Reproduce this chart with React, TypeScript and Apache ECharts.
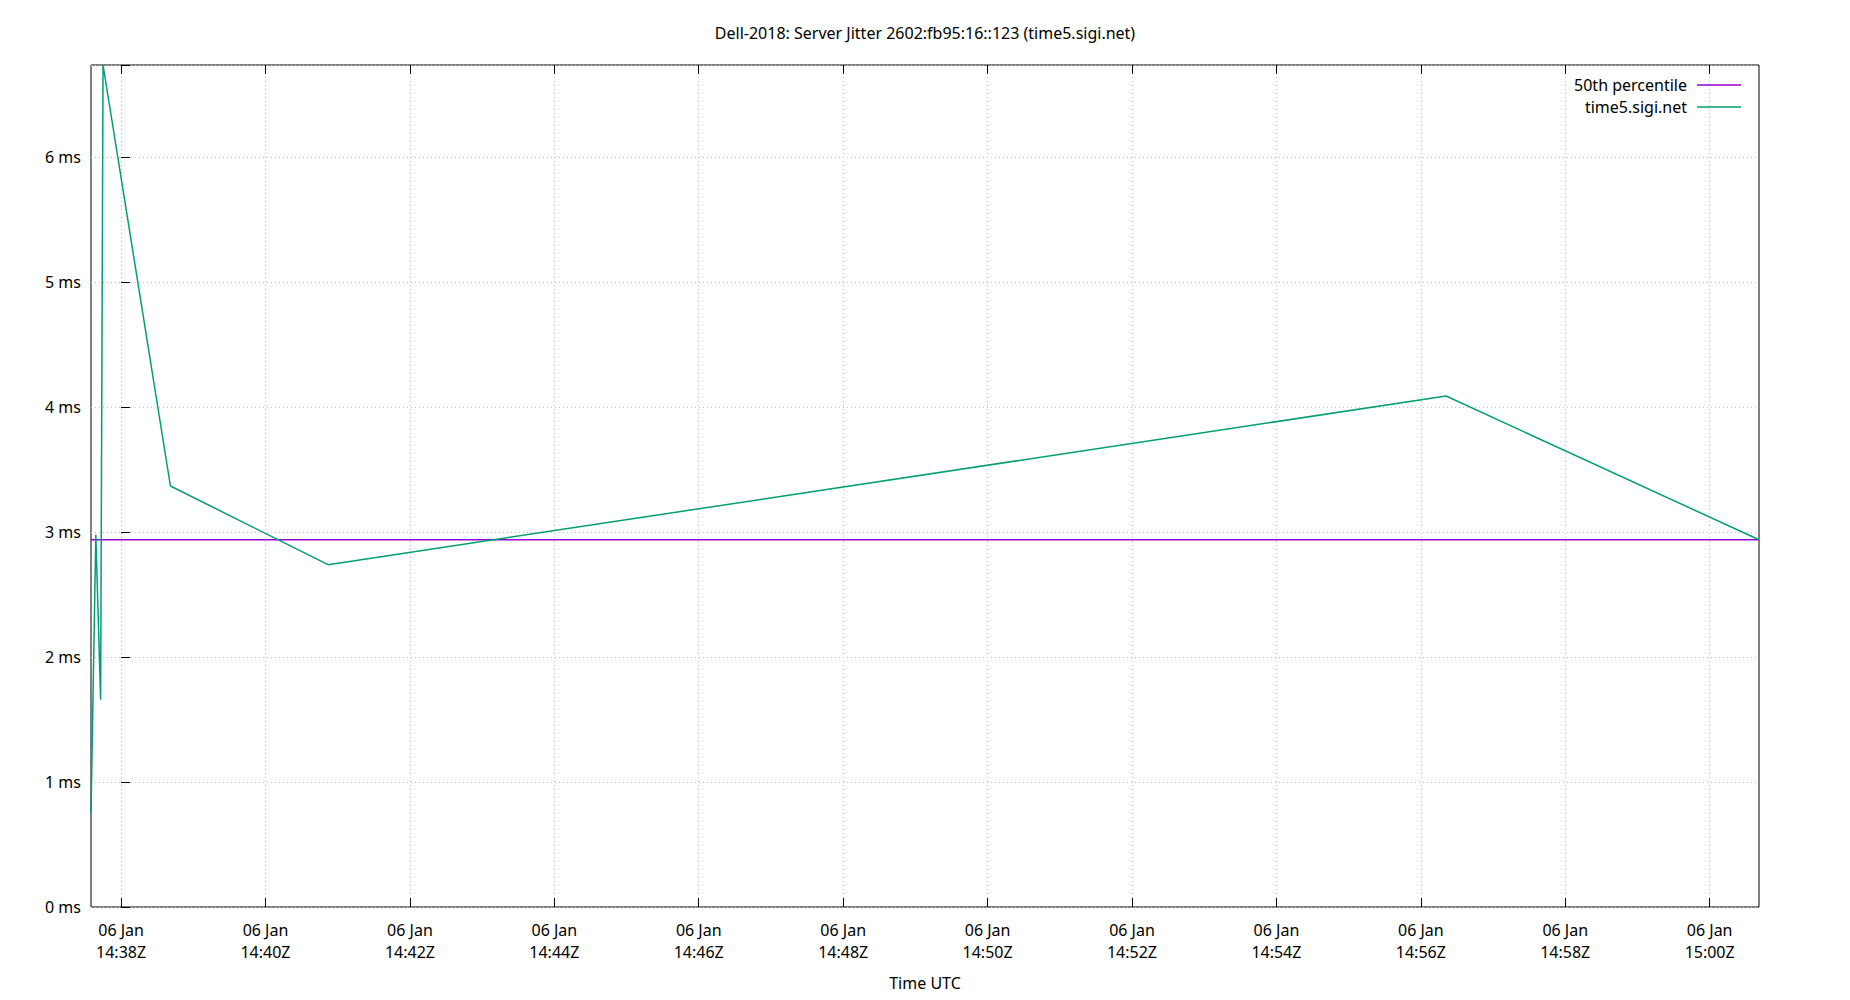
import React, { useEffect, useRef } from "react";
import * as echarts from "echarts";

const TITLE = "Dell-2018: Server Jitter 2602:fb95:16::123 (time5.sigi.net)";
const DAY_LABEL = "06 Jan";
const X_AXIS_NAME = "Time UTC";
const BASE_TIME = "14:38:00";
const xTickTimes = [
  "14:38:00",
  "14:40:00",
  "14:42:00",
  "14:44:00",
  "14:46:00",
  "14:48:00",
  "14:50:00",
  "14:52:00",
  "14:54:00",
  "14:56:00",
  "14:58:00",
  "15:00:00",
];
const Y_TICK_STEP = 1;

const PERCENTILE_NAME = "50th percentile";
const percentileMs = [2.94];

const SERIES_NAME = "time5.sigi.net";
const sampleTimes = [
  "14:37:35",
  "14:37:39",
  "14:37:43",
  "14:37:45",
  "14:38:41",
  "14:40:52",
  "14:56:21",
  "15:00:41",
];
const jitterMs = [0.75, 2.98, 1.66, 6.74, 3.37, 2.74, 4.09, 2.94];

const FONT = "Noto Sans";
const PURPLE = "#9400d3";
const GREEN = "#009e73";

function toSec(t: string): number {
  const [h, m, s] = t.split(":").map(Number);
  return h * 3600 + m * 60 + s;
}
const pad = (n: number) => (n < 10 ? "0" + n : "" + n);

export default function App() {
  const ref = useRef<HTMLDivElement>(null);

  useEffect(() => {
    if (!ref.current) return;
    const chart = echarts.init(ref.current, undefined, { renderer: "svg" });
    const base = toSec(BASE_TIME);
    const xs = sampleTimes.map((t) => toSec(t) - base);
    const xTicks = xTickTimes.map((t) => toSec(t) - base);
    const xMin = xs[0];
    const xMax = xs[xs.length - 1];
    const yMax = Math.max(...jitterMs);

    const xFormatter = (v: number) => {
      const total = base + Math.round(v);
      const h = Math.floor(total / 3600);
      const m = Math.floor((total % 3600) / 60);
      return `${DAY_LABEL}\n${pad(h)}:${pad(m)}Z`;
    };
    const yFormatter = (v: number) =>
      Math.abs(v - Math.round(v)) > 1e-6 ? "" : `${v} ms`;

    const gridLineStyle = { color: "#c4c4c4", width: 1, type: [1, 3] };
    const tickStyle = { color: "#000", width: 1 };

    const legendBase = {
      orient: "vertical",
      align: "right",
      icon: "rect",
      itemWidth: 44,
      itemHeight: 1.5,
      padding: 0,
      right: 109,
      textStyle: { fontSize: 16, color: "#000", fontFamily: FONT, padding: [0, 5, 0, 0], lineHeight: 20 },
    };

    chart.setOption({
      animation: false,
      backgroundColor: "#fff",
      color: [PURPLE, GREEN],
      textStyle: { fontFamily: FONT },
      title: {
        text: TITLE,
        left: "center",
        top: 20,
        textStyle: { fontSize: 16, fontWeight: "normal", color: "#000", fontFamily: FONT },
      },
      legend: [
        { ...legendBase, top: 75, data: [PERCENTILE_NAME] },
        { ...legendBase, top: 97, data: [SERIES_NAME] },
      ],
      grid: {
        left: 91,
        right: 91,
        top: 65,
        bottom: 93,
        show: true,
        borderColor: "#000",
        borderWidth: 1,
        backgroundColor: "transparent",
        containLabel: false,
        outerBoundsMode: "none",
      },
      xAxis: [
        {
          type: "value",
          min: xMin,
          max: xMax,
          axisLine: { show: false },
          axisTick: { show: true, inside: true, length: 9, lineStyle: tickStyle, customValues: xTicks },
          axisLabel: {
            customValues: xTicks,
            formatter: xFormatter,
            fontSize: 16,
            lineHeight: 22,
            margin: 12,
            color: "#000",
            fontFamily: FONT,
          },
          splitLine: { show: true, lineStyle: gridLineStyle, customValues: xTicks },
          name: X_AXIS_NAME,
          nameLocation: "middle",
          nameGap: 68,
          nameTextStyle: { fontSize: 16, color: "#000", fontFamily: FONT },
        },
        {
          type: "value",
          position: "top",
          min: xMin,
          max: xMax,
          axisLine: { show: false },
          axisTick: { show: true, inside: true, length: 9, lineStyle: tickStyle, customValues: xTicks },
          axisLabel: { show: false, customValues: xTicks },
          splitLine: { show: false },
        },
      ],
      yAxis: {
        type: "value",
        min: 0,
        max: yMax,
        interval: Y_TICK_STEP,
        axisLine: { show: false },
        axisTick: { show: true, inside: true, length: 9, lineStyle: tickStyle },
        axisLabel: {
          formatter: yFormatter,
          fontSize: 16,
          margin: 10,
          color: "#000",
          fontFamily: FONT,
        },
        splitLine: { show: true, lineStyle: gridLineStyle },
      },
      series: [
        {
          name: PERCENTILE_NAME,
          type: "line",
          xAxisIndex: 0,
          symbol: "none",
          data: [
            [xMin, percentileMs[0]],
            [xMax, percentileMs[0]],
          ],
          lineStyle: { color: PURPLE, width: 1.5 },
          itemStyle: { color: PURPLE },
        },
        {
          name: SERIES_NAME,
          type: "line",
          xAxisIndex: 0,
          symbol: "none",
          data: xs.map((x, i) => [x, jitterMs[i]]),
          lineStyle: { color: GREEN, width: 1.5 },
          itemStyle: { color: GREEN },
        },
      ],
    });

    return () => chart.dispose();
  }, []);

  return (
    <div
      ref={ref}
      style={{ position: "fixed", left: 0, top: 0, width: 1850, height: 1000, background: "#fff" }}
    />
  );
}
